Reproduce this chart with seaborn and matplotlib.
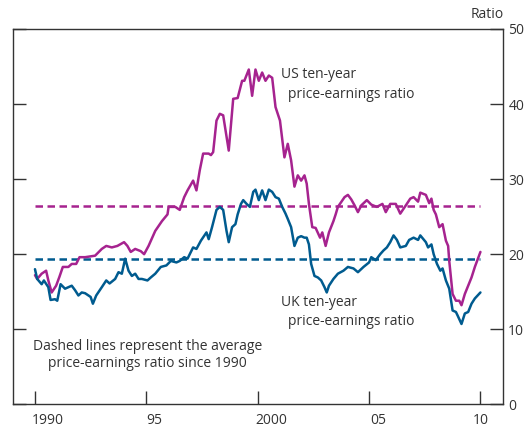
import pandas as pd
import matplotlib.pyplot as plt
import matplotlib.transforms as mtransforms
import seaborn as sns

# 데이터
us_year = [1990.0, 1990.1, 1990.3, 1990.5, 1990.6, 1990.75, 1990.95, 1991.1, 1991.25, 1991.5,
           1991.65, 1991.85, 1992.0, 1992.25, 1992.7, 1993.0, 1993.2, 1993.45, 1993.7, 1994.0,
           1994.15, 1994.3, 1994.5, 1994.75, 1994.9, 1995.1, 1995.4, 1995.7, 1995.95, 1996.0,
           1996.3, 1996.5, 1996.7, 1996.85, 1997.1, 1997.25, 1997.4, 1997.55, 1997.8, 1997.9,
           1998.0, 1998.15, 1998.3, 1998.45, 1998.7, 1998.9, 1999.1, 1999.3, 1999.4, 1999.6,
           1999.75, 1999.9, 2000.05, 2000.2, 2000.35, 2000.5, 2000.65, 2000.8, 2001.0, 2001.2,
           2001.35, 2001.5, 2001.65, 2001.8, 2001.95, 2002.1, 2002.2, 2002.3, 2002.45, 2002.6,
           2002.8, 2002.9, 2003.05, 2003.2, 2003.4, 2003.5, 2003.6, 2003.9, 2004.05, 2004.2,
           2004.35, 2004.5, 2004.65, 2004.9, 2005.1, 2005.35, 2005.6, 2005.75, 2005.95, 2006.2,
           2006.4, 2006.65, 2006.85, 2007.0, 2007.2, 2007.3, 2007.55, 2007.7, 2007.8, 2007.9,
           2008.0, 2008.15, 2008.3, 2008.45, 2008.55, 2008.6, 2008.75, 2008.9, 2009.05, 2009.15,
           2009.3, 2009.45, 2009.6, 2009.75, 2010.0]
us_ratio = [17.2, 16.7, 17.4, 17.8, 16.5, 14.9, 15.8, 17.0, 18.3, 18.3,
            18.7, 18.7, 19.6, 19.6, 19.8, 20.7, 21.1, 20.9, 21.1, 21.6,
            21.1, 20.3, 20.7, 20.4, 20.0, 21.1, 23.1, 24.4, 25.3, 26.3,
            26.3, 25.9, 27.6, 28.5, 29.8, 28.5, 31.2, 33.4, 33.4, 33.2,
            33.6, 37.8, 38.7, 38.5, 33.8, 40.7, 40.8, 43.1, 43.1, 44.6,
            41.1, 44.6, 43.1, 44.2, 43.1, 43.8, 43.5, 39.6, 37.8, 32.9,
            34.7, 32.5, 29.0, 30.5, 29.8, 30.5, 29.4, 26.7, 23.6, 23.5,
            22.2, 22.9, 21.1, 22.9, 24.4, 25.3, 26.3, 27.6, 27.9, 27.3,
            26.5, 25.6, 26.5, 27.2, 26.6, 26.3, 26.7, 25.6, 26.7, 26.7,
            25.4, 26.5, 27.4, 27.6, 27.0, 28.2, 27.9, 26.8, 27.4, 25.9,
            25.3, 23.6, 24.0, 21.8, 21.1, 19.1, 14.7, 13.8, 13.8, 13.2,
            14.7, 15.8, 16.9, 18.3, 20.3]

uk_year = [1990.0, 1990.1, 1990.3, 1990.4, 1990.6, 1990.7, 1990.9, 1991.0, 1991.15, 1991.35,
           1991.65, 1991.8, 1991.95, 1992.1, 1992.25, 1992.4, 1992.5, 1992.6, 1992.75, 1993.0,
           1993.2, 1993.35, 1993.6, 1993.75, 1993.9, 1994.05, 1994.2, 1994.35, 1994.5, 1994.65,
           1994.8, 1995.05, 1995.2, 1995.4, 1995.65, 1995.9, 1996.1, 1996.35, 1996.5, 1996.7,
           1996.85, 1997.1, 1997.25, 1997.45, 1997.7, 1997.8, 1997.95, 1998.15, 1998.3, 1998.45,
           1998.6, 1998.7, 1998.85, 1999.0, 1999.1, 1999.25, 1999.35, 1999.5, 1999.65, 1999.8,
           1999.9, 2000.05, 2000.2, 2000.35, 2000.5, 2000.65, 2000.8, 2000.95, 2001.1, 2001.25,
           2001.35, 2001.5, 2001.65, 2001.8, 2001.95, 2002.1, 2002.2, 2002.3, 2002.4, 2002.55,
           2002.7, 2002.85, 2003.0, 2003.1, 2003.2, 2003.4, 2003.6, 2003.85, 2004.05, 2004.3,
           2004.5, 2004.75, 2005.0, 2005.1, 2005.3, 2005.5, 2005.65, 2005.8, 2005.95, 2006.1,
           2006.25, 2006.4, 2006.65, 2006.8, 2007.0, 2007.2, 2007.3, 2007.55, 2007.65, 2007.8,
           2007.9, 2008.05, 2008.2, 2008.3, 2008.45, 2008.6, 2008.75, 2008.9, 2008.98, 2009.15,
           2009.3, 2009.45, 2009.6, 2009.75, 2010.0]
uk_ratio = [18.0, 16.7, 16.0, 16.5, 15.6, 13.9, 14.0, 13.8, 16.0, 15.4,
            15.8, 15.2, 14.5, 14.9, 14.8, 14.5, 14.3, 13.4, 14.5, 15.6,
            16.5, 16.1, 16.7, 17.6, 17.4, 19.4, 17.8, 17.1, 17.4, 16.7,
            16.7, 16.5, 16.9, 17.4, 18.3, 18.5, 19.1, 18.9, 19.1, 19.6,
            19.4, 20.9, 20.7, 21.8, 22.9, 22.0, 23.6, 25.9, 26.3, 25.9,
            23.1, 21.6, 23.6, 24.0, 25.3, 26.7, 27.2, 26.7, 26.3, 28.3,
            28.6, 27.2, 28.5, 27.2, 28.6, 28.3, 27.6, 27.4, 26.3, 25.4,
            24.7, 23.6, 21.1, 22.2, 22.4, 22.2, 22.2, 21.3, 18.7, 17.1,
            16.9, 16.5, 15.6, 14.9, 15.8, 16.7, 17.4, 17.8, 18.3, 18.1,
            17.6, 18.3, 18.9, 19.6, 19.2, 20.0, 20.5, 20.9, 21.6, 22.5,
            21.9, 20.9, 21.1, 21.9, 22.2, 21.9, 22.5, 21.6, 20.9, 21.3,
            20.0, 18.7, 17.8, 18.1, 16.5, 15.4, 12.5, 12.3, 11.8, 10.7,
            12.1, 12.3, 13.4, 14.1, 14.9]

us_avg = 26.4
uk_avg = 19.4

x_ticks = [1990, 1995, 2000, 2005, 2010]
x_labels = ['1990', '95', '2000', '05', '10']
y_ticks = [0, 10, 20, 30, 40, 50]

us_color = '#a6238f'
uk_color = '#005b8f'
text_color = '#333333'

sns.set_style('white')
plt.rcParams['font.family'] = ['Open Sans', 'DejaVu Sans']

df_us = pd.DataFrame({'year': us_year, 'ratio': us_ratio})
df_uk = pd.DataFrame({'year': uk_year, 'ratio': uk_ratio})

W, H = 531, 428
fig = plt.figure(figsize=(W / 100, H / 100), dpi=100)
ax = fig.add_axes([12.7 / W, 1 - 404.3 / H, (502.7 - 12.7) / W, (404.3 - 29) / H])

# 평균선 (점선)
ax.hlines(us_avg, 1990, 2010, colors=us_color, linestyles=(0, (3.0, 1.8)), linewidth=1.8)
ax.hlines(uk_avg, 1990, 2010, colors=uk_color, linestyles=(0, (3.0, 1.8)), linewidth=1.8)

sns.lineplot(data=df_us, x='year', y='ratio', color=us_color, linewidth=1.8,
             sort=False, estimator=None, ax=ax)
sns.lineplot(data=df_uk, x='year', y='ratio', color=uk_color, linewidth=1.8,
             sort=False, estimator=None, ax=ax)

ax.set_xlim(1989.0, 2011.0)
ax.set_ylim(0, 50)
ax.set_xlabel('')
ax.set_ylabel('')

fs = 10
ax.set_xticks(x_ticks)
ax.set_xticklabels(x_labels)
ax.set_yticks(y_ticks)
ax.tick_params(axis='x', direction='in', length=9.5, width=1, color=text_color,
               labelsize=fs, labelcolor=text_color, pad=6, bottom=True)
ax.tick_params(axis='y', direction='in', length=9.5, width=1, color=text_color,
               labelsize=fs, labelcolor=text_color, left=True, right=True,
               labelleft=False, labelright=True, pad=4)

# x축 레이블이 원본처럼 틱 오른쪽으로 조금 밀려 있음
label_shift = [13, 8, 14, 9, 0]
for lab, dx in zip(ax.get_xticklabels(), label_shift):
    lab.set_transform(lab.get_transform() + mtransforms.Affine2D().translate(dx, 0))

for s in ax.spines.values():
    s.set_color(text_color)
    s.set_linewidth(1)

# 주석 텍스트
ax.text(2001.05, 44.0, 'US ten-year', fontsize=fs, color=text_color, va='center')
ax.text(2001.35, 41.3, 'price-earnings ratio', fontsize=fs, color=text_color, va='center')
ax.text(2001.05, 13.6, 'UK ten-year', fontsize=fs, color=text_color, va='center')
ax.text(2001.35, 11.0, 'price-earnings ratio', fontsize=fs, color=text_color, va='center')
ax.text(1995.06, 7.7, 'Dashed lines represent the average', fontsize=fs, color=text_color,
        va='center', ha='center')
ax.text(1995.06, 5.4, 'price-earnings ratio since 1990', fontsize=fs, color=text_color,
        va='center', ha='center')
fig.text(504 / W, 1 - 15 / H, 'Ratio', fontsize=fs, color=text_color, ha='right', va='center')

fig.savefig('out.png', dpi=100)
